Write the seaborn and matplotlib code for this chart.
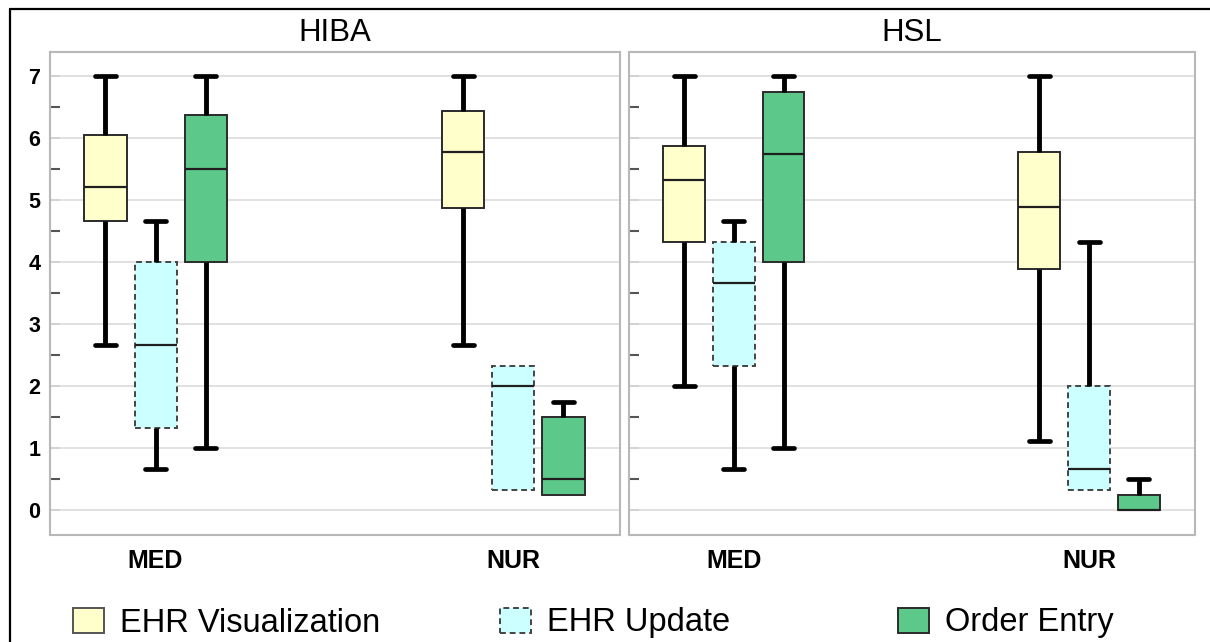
import numpy as np
import pandas as pd
import matplotlib
matplotlib.use("Agg")
import matplotlib.pyplot as plt
import seaborn as sns
from matplotlib.patches import Patch
from matplotlib.lines import Line2D
from matplotlib.colors import to_rgba

hospitals = ["HIBA", "HSL"]
professions = ["MED", "NUR"]
tasks = ["EHR Visualization", "EHR Update", "Order Entry"]
colors = ["#FFFFCC", "#CCFFFF", "#5CC98A"]

# five-number summaries [min, Q1, median, Q3, max]
hiba_med_vis = [2.67, 4.67, 5.22, 6.05, 7.0]
hiba_med_upd = [0.67, 1.33, 2.67, 4.0, 4.67]
hiba_med_ord = [1.0, 4.0, 5.5, 6.37, 7.0]
hiba_nur_vis = [2.67, 4.88, 5.78, 6.44, 7.0]
hiba_nur_upd = [0.33, 0.33, 2.0, 2.33, 2.33]
hiba_nur_ord = [0.25, 0.25, 0.5, 1.5, 1.75]
hsl_med_vis = [2.0, 4.33, 5.33, 5.88, 7.0]
hsl_med_upd = [0.67, 2.33, 3.67, 4.33, 4.67]
hsl_med_ord = [1.0, 4.0, 5.75, 6.75, 7.0]
hsl_nur_vis = [1.11, 3.89, 4.89, 5.78, 7.0]
hsl_nur_upd = [0.33, 0.33, 0.67, 2.0, 4.33]
hsl_nur_ord = [0.0, 0.0, 0.0, 0.25, 0.5]

summaries = {
    ("HIBA", "MED"): [hiba_med_vis, hiba_med_upd, hiba_med_ord],
    ("HIBA", "NUR"): [hiba_nur_vis, hiba_nur_upd, hiba_nur_ord],
    ("HSL", "MED"): [hsl_med_vis, hsl_med_upd, hsl_med_ord],
    ("HSL", "NUR"): [hsl_nur_vis, hsl_nur_upd, hsl_nur_ord],
}

rows = []
for (hosp, prof), lists in summaries.items():
    for task, vals in zip(tasks, lists):
        for v in vals:
            rows.append({"hospital": hosp, "profession": prof, "task": task, "score": v})
df = pd.DataFrame(rows)

sns.set_style("whitegrid")
plt.rcParams["font.family"] = ["Liberation Sans", "DejaVu Sans"]
plt.rcParams["text.color"] = "black"
plt.rcParams["xtick.color"] = "black"
plt.rcParams["ytick.color"] = "black"
plt.rcParams["xtick.labelcolor"] = "black"
plt.rcParams["ytick.labelcolor"] = "black"

W, H = 1210, 642
fig = plt.figure(figsize=(W / 100, H / 100), dpi=100)
fig.patch.set_facecolor("white")

ax_rects = [
    (50 / W, 1 - 535 / H, 570 / W, 483 / H),
    (629 / W, 1 - 535 / H, 566 / W, 483 / H),
]
palette = dict(zip(tasks, colors))
cyan_rgba = to_rgba(colors[1])

for i, hosp in enumerate(hospitals):
    ax = fig.add_axes(ax_rects[i])
    sub = df[df["hospital"] == hosp]
    sns.boxplot(
        data=sub, x="profession", y="score", hue="task",
        order=professions, hue_order=tasks, palette=palette, saturation=1,
        width=0.42, gap=0.16, whis=np.inf, legend=False, ax=ax,
        linewidth=1.4,
        boxprops=dict(edgecolor="#2b2b2b", linewidth=1.4),
        medianprops=dict(color="#1f1f1f", linewidth=1.6),
        whiskerprops=dict(color="black", linewidth=3.5),
        capprops=dict(color="black", linewidth=3.4),
        showfliers=False,
    )
    for p in ax.patches:
        if np.allclose(p.get_facecolor(), cyan_rgba, atol=0.03):
            p.set_linestyle((0, (3, 2)))
            p.set_edgecolor("#444444")

    # hide caps of zero-length whiskers (as in the reference)
    zero_whiskers = []
    for ln in ax.lines:
        xd, yd = np.asarray(ln.get_xdata(), float), np.asarray(ln.get_ydata(), float)
        if len(xd) == 2 and np.isclose(xd[0], xd[1]) and np.isclose(yd[0], yd[1]):
            zero_whiskers.append((xd[0], yd[0]))
    for ln in ax.lines:
        xd, yd = np.asarray(ln.get_xdata(), float), np.asarray(ln.get_ydata(), float)
        if len(xd) == 2 and np.isclose(yd[0], yd[1]) and ln.get_linewidth() > 3.0 \
                and not np.isclose(xd[0], xd[1]):
            xc = xd.mean()
            for (wx, wy) in zero_whiskers:
                if abs(wx - xc) < 1e-6 and abs(wy - yd[0]) < 1e-6:
                    ln.set_visible(False)

    ax.set_xlim(-0.295, 1.298)
    ax.set_ylim(-0.4, 7.39)
    ax.set_yticks(range(0, 8))
    ax.set_yticks(np.arange(0.5, 7, 1.0), minor=True)
    ax.grid(axis="y", which="major", color="#dcdcdc", linewidth=1.2)
    ax.grid(axis="x", visible=False)
    ax.grid(axis="y", which="minor", visible=False)
    ax.set_axisbelow(True)
    ax.tick_params(axis="y", which="major", direction="in", length=7, width=1.2,
                   color="#cfcfcf", pad=7, left=True, labelcolor="black")
    ax.tick_params(axis="y", which="minor", direction="in", length=7, width=1.5,
                   color="#555555", left=True)
    ax.tick_params(axis="x", length=0, pad=10, labelcolor="black")
    for lab in ax.get_yticklabels():
        lab.set_fontweight("bold")
        lab.set_fontsize(15.5)
    for lab in ax.get_xticklabels():
        lab.set_fontweight("bold")
        lab.set_fontsize(18)
    if i == 1:
        ax.tick_params(axis="y", which="both", labelleft=False)
    ax.set_xlabel("")
    ax.set_ylabel("")
    for s in ax.spines.values():
        s.set_visible(True)
        s.set_color("#b8b8b8")
        s.set_linewidth(1.5)
    ax.set_title(hosp, fontsize=22.5, pad=8, color="black")

# outer frame (left and top edges visible)
xl = 9.5 / W
yt = 1 - 8.5 / H
fig.add_artist(Line2D([xl, xl], [0, yt], transform=fig.transFigure, color="black", lw=1.6))
fig.add_artist(Line2D([xl, 1], [yt, yt], transform=fig.transFigure, color="black", lw=1.6))

# legend: three entries spaced evenly along the bottom
legend_x = [73 / W, 500 / W, 898 / W]
styles = ["solid", (0, (3, 2)), "solid"]
edges = ["#555555", "#444444", "#2b2b2b"]
for task, col, lx, ls, ec in zip(tasks, colors, legend_x, styles, edges):
    h = Patch(facecolor=col, edgecolor=ec, linestyle=ls, linewidth=1.4)
    leg = fig.legend([h], [task], loc="center left", bbox_to_anchor=(lx, 1 - 623 / H),
                     frameon=False, fontsize=23.5, handlelength=0.95, handleheight=0.8,
                     handletextpad=0.5, borderpad=0, borderaxespad=0)
    for t in leg.get_texts():
        t.set_color("black")

fig.savefig("out.png", dpi=100, facecolor="white")
